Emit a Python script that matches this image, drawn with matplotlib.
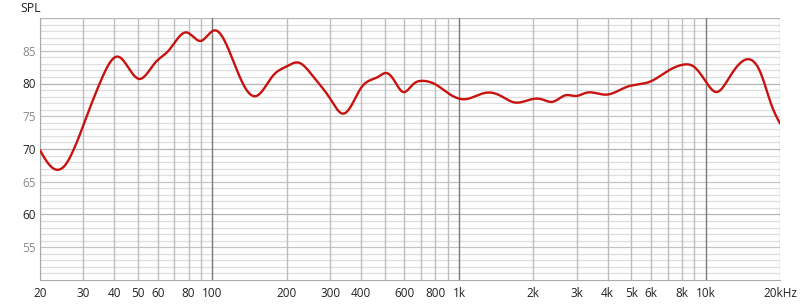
import numpy as np
import matplotlib
matplotlib.use("Agg")
import matplotlib.pyplot as plt

freq = [20, 21.3, 23, 25.6, 27.3, 28.6, 30, 32.8, 35, 41.5, 50.4, 59, 66, 78.6, 89.6, 101.5,
        107, 121, 136, 151, 177, 200, 223, 257, 300, 338, 373, 400, 436, 469, 508, 545,
        593, 652, 718, 808, 888, 1056, 1290, 1460, 1680, 1970, 2160, 2390, 2700, 2990,
        3290, 3970, 4800, 5960, 6940, 8180, 8930, 10000, 11060, 12500, 14700, 16700,
        18560, 20000]
spl = [69.8, 68.1, 66.9, 67.8, 69.8, 71.6, 73.7, 77.5, 80.1, 84.1, 80.7, 83.3, 84.9, 87.8,
       86.5, 88.1, 87.7, 83.6, 79.3, 78.1, 81.3, 82.6, 83.2, 81.0, 77.7, 75.4, 77.2, 79.3,
       80.5, 81.0, 81.6, 80.5, 78.7, 79.9, 80.4, 79.8, 78.7, 77.6, 78.6, 78.2, 77.1, 77.6,
       77.6, 77.2, 78.2, 78.1, 78.6, 78.3, 79.5, 80.3, 81.8, 82.9, 82.6, 80.3, 78.7, 81.0,
       83.7, 81.6, 76.5, 73.9]

xtick_vals = [20, 30, 40, 50, 60, 80, 100, 200, 300, 400, 600, 800, 1000, 2000,
              3000, 4000, 5000, 6000, 8000, 10000, 20000]
xtick_labels = ["20", "30", "40", "50", "60", "80", "100", "200", "300", "400",
                "600", "800", "1k", "2k", "3k", "4k", "5k", "6k", "8k", "10k", "20kHz"]
ytick_vals = [55, 60, 65, 70, 75, 80, 85]


def natural_spline(x, y, xs):
    x = np.asarray(x, float); y = np.asarray(y, float)
    n = len(x)
    h = np.diff(x)
    A = np.zeros((n, n)); b = np.zeros(n)
    A[0, 0] = 1; A[-1, -1] = 1
    for i in range(1, n - 1):
        A[i, i - 1] = h[i - 1]
        A[i, i] = 2 * (h[i - 1] + h[i])
        A[i, i + 1] = h[i]
        b[i] = 3 * ((y[i + 1] - y[i]) / h[i] - (y[i] - y[i - 1]) / h[i - 1])
    c = np.linalg.solve(A, b)
    bb = (y[1:] - y[:-1]) / h - h * (2 * c[:-1] + c[1:]) / 3
    d = (c[1:] - c[:-1]) / (3 * h)
    idx = np.clip(np.searchsorted(x, xs) - 1, 0, n - 2)
    dx = xs - x[idx]
    return y[idx] + bb[idx] * dx + c[idx] * dx ** 2 + d[idx] * dx ** 3


plt.rcParams['font.family'] = ['Open Sans', 'DejaVu Sans']
fig = plt.figure(figsize=(8, 3.04), dpi=100)
ax = fig.add_axes([40 / 800, 24 / 304, 740 / 800, 262 / 304])
ax.set_xscale('log')
ax.set_xlim(20, 20000)
ax.set_ylim(50, 90)

# grid
for v in range(51, 91):
    if v % 10 == 0:
        col = '#b4b4b4'
    elif v % 5 == 0:
        col = '#c4c4c4'
    else:
        col = '#dedede'
    ax.axhline(v, color=col, lw=0.9, zorder=1)
for dec in [10, 100, 1000, 10000]:
    for m in range(1, 10):
        f = dec * m
        if f < 20 or f > 20000:
            continue
        if m == 1:
            ax.axvline(f, color='#7a7a7a', lw=1.0, zorder=1.5)
        else:
            ax.axvline(f, color='#bdbdbd', lw=1.0, zorder=1.2)

lf = np.log10(freq)
xs = np.linspace(lf[0], lf[-1], 1500)
ys = natural_spline(lf, spl, xs)
ax.plot(10 ** xs, ys, color='#c8120f', lw=1.7, zorder=3, solid_capstyle='round')

for s in ['top', 'right']:
    ax.spines[s].set_visible(False)
ax.spines['left'].set_color('#aaaaaa')
ax.spines['bottom'].set_color('#aaaaaa')

ax.set_xticks(xtick_vals)
ax.set_xticklabels(xtick_labels)
ax.xaxis.set_minor_locator(matplotlib.ticker.NullLocator())
ax.set_yticks(ytick_vals)
ax.set_yticklabels([str(v) for v in ytick_vals])
for lab, v in zip(ax.get_yticklabels(), ytick_vals):
    lab.set_color('#222222' if v % 10 == 0 else '#8a8a8a')
ax.tick_params(axis='both', length=0, labelsize=8.5)
ax.tick_params(axis='x', pad=5, colors='#222222')
ax.tick_params(axis='y', pad=3)

fig.text(20 / 800, 1 - 8 / 304, 'SPL', fontsize=8.8, color='#222222', ha='left', va='center')

fig.savefig('out.png', dpi=100)
